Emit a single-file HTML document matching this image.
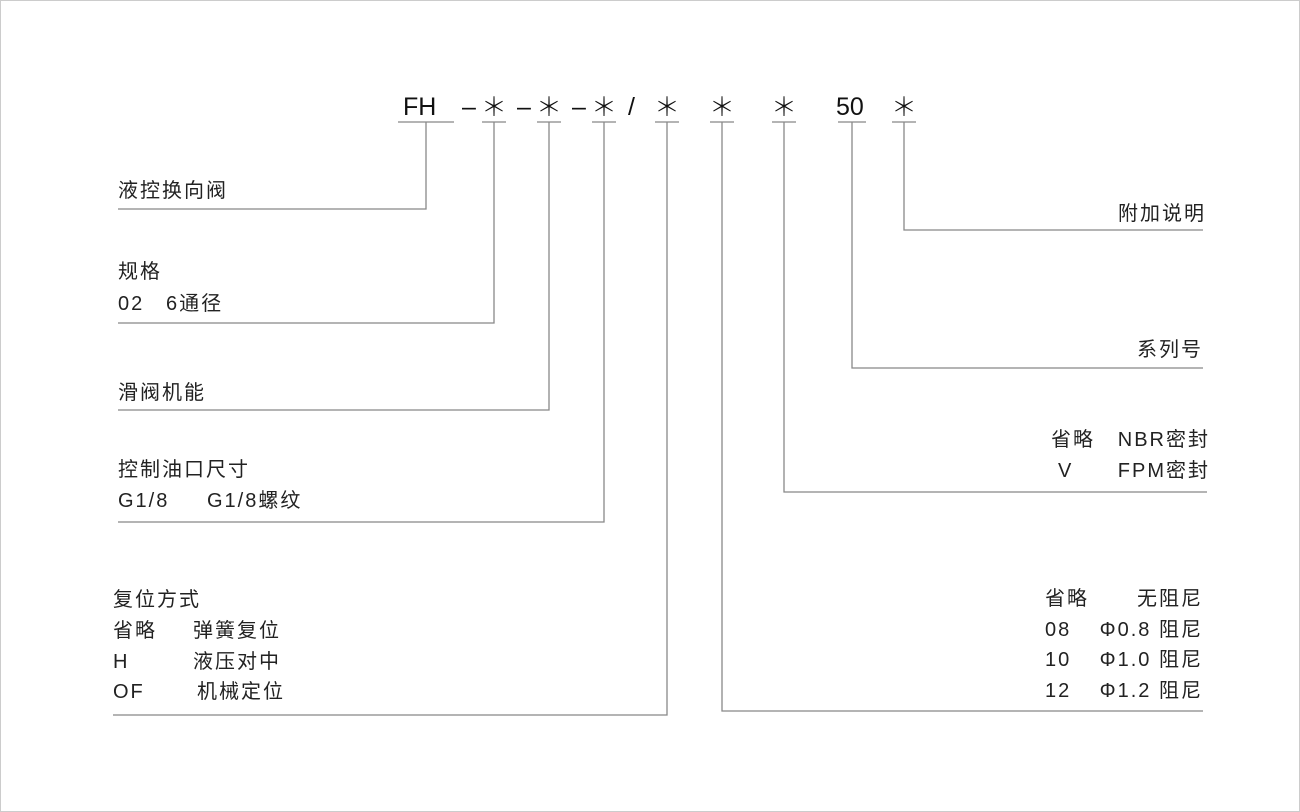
<!DOCTYPE html>
<html><head><meta charset="utf-8"><style>
body{margin:0;width:1300px;height:812px;background:#fff;position:relative;overflow:hidden;font-family:"Liberation Sans","Noto Sans CJK SC",sans-serif;color:#222}
.t{position:absolute;font-size:20px;line-height:20px;white-space:nowrap;letter-spacing:2px}
.r{text-align:right;letter-spacing:0}
.r span{letter-spacing:2px}
.h{position:absolute;font-size:25px;line-height:26px;top:94px;white-space:nowrap;color:#111}
.s{position:absolute;width:30px;text-align:center;font-family:"Noto Sans CJK SC",sans-serif;font-size:26px;line-height:26px;top:93px;color:#111;font-weight:300}
</style></head><body>
<svg width="1300" height="812" style="position:absolute;left:0;top:0">
<rect x="0.5" y="0.5" width="1299" height="811" fill="none" stroke="#ccc"/>
<g stroke="#888" stroke-width="1.3" fill="none">
<line x1="398" y1="122" x2="454" y2="122"/>
<line x1="482" y1="122" x2="506" y2="122"/>
<line x1="537" y1="122" x2="561" y2="122"/>
<line x1="592" y1="122" x2="616" y2="122"/>
<line x1="655" y1="122" x2="679" y2="122"/>
<line x1="710" y1="122" x2="734" y2="122"/>
<line x1="772" y1="122" x2="796" y2="122"/>
<line x1="838" y1="122" x2="866" y2="122"/>
<line x1="892" y1="122" x2="916" y2="122"/>
<polyline points="426,122 426,209 118,209"/>
<polyline points="494,122 494,323 118,323"/>
<polyline points="549,122 549,410 118,410"/>
<polyline points="604,122 604,522 118,522"/>
<polyline points="667,122 667,715 113,715"/>
<polyline points="722,122 722,711 1203,711"/>
<polyline points="784,122 784,492 1207,492"/>
<polyline points="852,122 852,368 1203,368"/>
<polyline points="904,122 904,230 1203,230"/>
</g></svg>
<div class="h" style="left:403px">FH</div>
<div class="h" style="left:462px">–</div>
<div class="h" style="left:517px">–</div>
<div class="h" style="left:572px">–</div>
<div class="h" style="left:628px">/</div>
<div class="h" style="left:836px">50</div>
<div class="s" style="left:479px">＊</div>
<div class="s" style="left:534px">＊</div>
<div class="s" style="left:589px">＊</div>
<div class="s" style="left:652px">＊</div>
<div class="s" style="left:707px">＊</div>
<div class="s" style="left:769px">＊</div>
<div class="s" style="left:889px">＊</div>

<div class="t" style="left:118px;top:181px">液控换向阀</div>
<div class="t" style="left:118px;top:262px">规格</div>
<div class="t" style="left:118px;top:294px">02</div>
<div class="t" style="left:166px;top:294px">6通径</div>
<div class="t" style="left:118px;top:383px">滑阀机能</div>
<div class="t" style="left:118px;top:460px">控制油口尺寸</div>
<div class="t" style="left:118px;top:491px">G1/8</div>
<div class="t" style="left:207px;top:491px">G1/8螺纹</div>
<div class="t" style="left:113px;top:590px">复位方式</div>
<div class="t" style="left:113px;top:621px">省略</div>
<div class="t" style="left:193px;top:621px">弹簧复位</div>
<div class="t" style="left:113px;top:652px">H</div>
<div class="t" style="left:193px;top:652px">液压对中</div>
<div class="t" style="left:113px;top:682px">OF</div>
<div class="t" style="left:197px;top:682px">机械定位</div>

<div class="t r" style="right:96px;top:204px"><span>附加说</span>明</div>
<div class="t r" style="right:99px;top:340px"><span>系列</span>号</div>
<div class="t" style="left:1051px;top:430px">省略</div>
<div class="t r" style="right:92px;top:430px"><span>NBR密</span>封</div>
<div class="t" style="left:1058px;top:461px">V</div>
<div class="t r" style="right:92px;top:461px"><span>FPM密</span>封</div>
<div class="t" style="left:1045px;top:589px">省略</div>
<div class="t r" style="right:99px;top:589px"><span>无阻</span>尼</div>
<div class="t" style="left:1045px;top:620px">08</div>
<div class="t r" style="right:99px;top:620px"><span>Φ0.8 阻</span>尼</div>
<div class="t" style="left:1045px;top:650px">10</div>
<div class="t r" style="right:99px;top:650px"><span>Φ1.0 阻</span>尼</div>
<div class="t" style="left:1045px;top:681px">12</div>
<div class="t r" style="right:99px;top:681px"><span>Φ1.2 阻</span>尼</div>
</body></html>
